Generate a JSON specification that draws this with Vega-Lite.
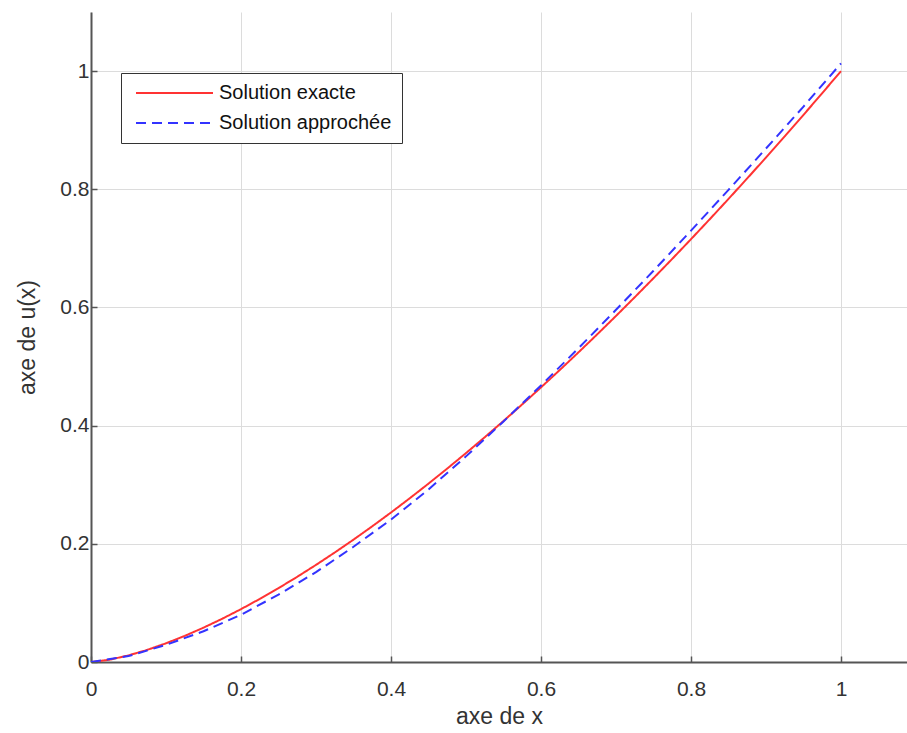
{
  "$schema": "https://vega.github.io/schema/vega-lite/v6.json",
  "width": 816,
  "height": 650,
  "autosize": "none",
  "padding": {"left": 91, "top": 12, "right": 0, "bottom": 71},
  "background": "white",
  "config": {
    "font": "Liberation Sans",
    "view": {"stroke": null},
    "axis": {
      "domainColor": "#555555",
      "domainWidth": 2,
      "tickColor": "#555555",
      "tickWidth": 1.5,
      "tickSize": -6,
      "gridColor": "#dcdcdc",
      "gridWidth": 1,
      "labelFontSize": 21,
      "labelColor": "#333333",
      "labelFlush": false,
      "titleFontSize": 23,
      "titleFontWeight": "normal",
      "titleColor": "#333333"
    }
  },
  "datasets": {
    "curves": [
      {"x": 0, "u": 0, "serie": "Solution exacte"},
      {"x": 0.025, "u": 0.00395, "serie": "Solution exacte"},
      {"x": 0.05, "u": 0.01118, "serie": "Solution exacte"},
      {"x": 0.075, "u": 0.02054, "serie": "Solution exacte"},
      {"x": 0.1, "u": 0.03162, "serie": "Solution exacte"},
      {"x": 0.125, "u": 0.04419, "serie": "Solution exacte"},
      {"x": 0.15, "u": 0.0581, "serie": "Solution exacte"},
      {"x": 0.175, "u": 0.07321, "serie": "Solution exacte"},
      {"x": 0.2, "u": 0.08944, "serie": "Solution exacte"},
      {"x": 0.225, "u": 0.10673, "serie": "Solution exacte"},
      {"x": 0.25, "u": 0.125, "serie": "Solution exacte"},
      {"x": 0.275, "u": 0.14421, "serie": "Solution exacte"},
      {"x": 0.3, "u": 0.16432, "serie": "Solution exacte"},
      {"x": 0.325, "u": 0.18528, "serie": "Solution exacte"},
      {"x": 0.35, "u": 0.20706, "serie": "Solution exacte"},
      {"x": 0.375, "u": 0.22964, "serie": "Solution exacte"},
      {"x": 0.4, "u": 0.25298, "serie": "Solution exacte"},
      {"x": 0.425, "u": 0.27707, "serie": "Solution exacte"},
      {"x": 0.45, "u": 0.30187, "serie": "Solution exacte"},
      {"x": 0.475, "u": 0.32737, "serie": "Solution exacte"},
      {"x": 0.5, "u": 0.35355, "serie": "Solution exacte"},
      {"x": 0.525, "u": 0.3804, "serie": "Solution exacte"},
      {"x": 0.55, "u": 0.40789, "serie": "Solution exacte"},
      {"x": 0.575, "u": 0.43602, "serie": "Solution exacte"},
      {"x": 0.6, "u": 0.46476, "serie": "Solution exacte"},
      {"x": 0.625, "u": 0.49411, "serie": "Solution exacte"},
      {"x": 0.65, "u": 0.52405, "serie": "Solution exacte"},
      {"x": 0.675, "u": 0.55457, "serie": "Solution exacte"},
      {"x": 0.7, "u": 0.58566, "serie": "Solution exacte"},
      {"x": 0.725, "u": 0.61732, "serie": "Solution exacte"},
      {"x": 0.75, "u": 0.64952, "serie": "Solution exacte"},
      {"x": 0.775, "u": 0.68226, "serie": "Solution exacte"},
      {"x": 0.8, "u": 0.71554, "serie": "Solution exacte"},
      {"x": 0.825, "u": 0.74935, "serie": "Solution exacte"},
      {"x": 0.85, "u": 0.78366, "serie": "Solution exacte"},
      {"x": 0.875, "u": 0.81849, "serie": "Solution exacte"},
      {"x": 0.9, "u": 0.85382, "serie": "Solution exacte"},
      {"x": 0.925, "u": 0.88964, "serie": "Solution exacte"},
      {"x": 0.95, "u": 0.92595, "serie": "Solution exacte"},
      {"x": 0.975, "u": 0.96274, "serie": "Solution exacte"},
      {"x": 1, "u": 1, "serie": "Solution exacte"},
      {"x": 0, "u": 0, "serie": "Solution approchée"},
      {"x": 0.05, "u": 0.010, "serie": "Solution approchée"},
      {"x": 0.1, "u": 0.029, "serie": "Solution approchée"},
      {"x": 0.15, "u": 0.052, "serie": "Solution approchée"},
      {"x": 0.2, "u": 0.080, "serie": "Solution approchée"},
      {"x": 0.25, "u": 0.114, "serie": "Solution approchée"},
      {"x": 0.3, "u": 0.152, "serie": "Solution approchée"},
      {"x": 0.35, "u": 0.195, "serie": "Solution approchée"},
      {"x": 0.4, "u": 0.241, "serie": "Solution approchée"},
      {"x": 0.45, "u": 0.292, "serie": "Solution approchée"},
      {"x": 0.5, "u": 0.348, "serie": "Solution approchée"},
      {"x": 0.55, "u": 0.407, "serie": "Solution approchée"},
      {"x": 0.6, "u": 0.468, "serie": "Solution approchée"},
      {"x": 0.65, "u": 0.531, "serie": "Solution approchée"},
      {"x": 0.7, "u": 0.596, "serie": "Solution approchée"},
      {"x": 0.75, "u": 0.662, "serie": "Solution approchée"},
      {"x": 0.8, "u": 0.730, "serie": "Solution approchée"},
      {"x": 0.85, "u": 0.799, "serie": "Solution approchée"},
      {"x": 0.9, "u": 0.869, "serie": "Solution approchée"},
      {"x": 0.95, "u": 0.940, "serie": "Solution approchée"},
      {"x": 1, "u": 1.013, "serie": "Solution approchée"}
    ]
  },
  "data": {"name": "curves"},
  "mark": {"type": "line", "strokeWidth": 2, "clip": true},
  "encoding": {
    "x": {
      "field": "x",
      "type": "quantitative",
      "scale": {"domain": [0, 1.088], "nice": false, "zero": false},
      "axis": {
        "title": "axe de x",
        "values": [0, 0.2, 0.4, 0.6, 0.8, 1],
        "format": "~g",
        "labelPadding": 22,
        "titlePadding": 6
      }
    },
    "y": {
      "field": "u",
      "type": "quantitative",
      "scale": {"domain": [0, 1.1], "nice": false},
      "axis": {
        "title": "axe de u(x)",
        "values": [0, 0.2, 0.4, 0.6, 0.8, 1],
        "format": "~g",
        "labelPadding": 8,
        "titlePadding": 20
      }
    },
    "color": {
      "field": "serie",
      "type": "nominal",
      "scale": {
        "domain": ["Solution exacte", "Solution approchée"],
        "range": ["#ff3333", "#3333ff"]
      },
      "legend": {
        "title": null,
        "orient": "none",
        "legendX": 30,
        "legendY": 61,
        "symbolType": "M-1,0H14.4",
        "symbolSize": 100,
        "symbolStrokeWidth": 2,
        "labelFontSize": 20,
        "labelColor": "#111111",
        "labelOffset": 68,
        "labelLimit": 300,
        "rowPadding": 10,
        "padding": 10,
        "strokeColor": "#333333",
        "fillColor": "white"
      }
    },
    "strokeDash": {
      "field": "serie",
      "type": "nominal",
      "scale": {
        "domain": ["Solution exacte", "Solution approchée"],
        "range": [[1, 0], [10, 6]]
      },
      "legend": null
    }
  }
}
